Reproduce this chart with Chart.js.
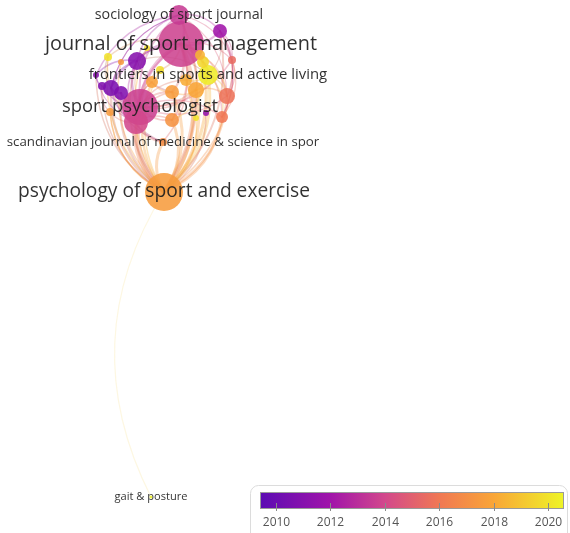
<!DOCTYPE html>
<html>
<head>
<meta charset="utf-8">
<script src="https://cdn.jsdelivr.net/npm/chart.js@4.4.1/dist/chart.umd.min.js"></script>
<style>
  html, body { margin: 0; padding: 0; background: #fff; }
  #wrap { width: 570px; height: 533px; }
</style>
</head>
<body>
<div id="wrap"><canvas id="net" width="570" height="533"></canvas></div>
<script>
// ---- network layout (map coordinates), node weight and avg. publication year
const nodeX    = [181, 179, 220, 137, 108, 203, 208, 160, 121, 111, 121,  96, 102, 140, 136, 172, 196, 227, 222, 206, 172, 186, 196, 163, 164, 151, 152, 147, 200, 232, 110];
const nodeY    = [ 44,  15,  31,  61,  57,  62,  75,  70,  62,  88,  93,  75,  86, 107, 122,  92,  90,  96, 117, 113, 120,  80, 118, 142, 192, 497,  82,  48,  55,  60, 112];
const nodeR    = [ 23,  10,   7,   9,   4,   6,  10,   4,   3,   8,   7,   3,   4,  18,  12,   7,   8,   8,   6,   3,   7,   6,   3,   4,  19, 1.5,   6,   3,   5,   4,   4];
const nodeYear = [2013.8, 2013.5, 2012.0, 2011.0, 2020.0, 2019.6, 2020.3, 2019.8, 2017.5, 2010.6, 2010.8, 2011.0, 2010.8,
                  2013.7, 2014.0, 2017.6, 2018.0, 2015.8, 2016.0, 2011.5, 2017.2, 2018.2, 2020.0, 2017.0, 2017.6, 2020.5,
                  2017.8, 2019.8, 2018.5, 2015.5, 2017.5];

// links (source node, target node, strength)
const edgeFrom = [0, 13, 14, 3, 9, 10, 6, 15, 16, 17, 18, 20, 23, 26, 21, 5, 1, 2, 19, 22, 8, 11, 12, 4, 7, 27, 28, 29, 30,
                  24,
                  0, 0, 0, 0, 0, 0, 0, 0, 0, 0, 0, 0, 1, 1, 1, 13, 13, 13, 13, 13, 13, 13, 13, 3, 3, 6, 6, 6, 6, 9, 14, 14, 15, 17, 2, 1, 0, 0, 13, 13,
                  1, 2, 4, 11, 9, 12, 3, 5, 28, 2, 27, 7,
                  0, 0, 0, 1, 1, 2, 2, 3, 3, 4, 6, 6, 9, 10, 11, 12, 13, 13, 14, 15, 16, 17, 26, 26, 29, 30, 30, 0, 13, 1];
const edgeTo   = [24, 24, 24, 24, 24, 24, 24, 24, 24, 24, 24, 24, 24, 24, 24, 24, 24, 24, 24, 24, 24, 24, 24, 24, 24, 24, 24, 24, 24,
                  25,
                  1, 2, 3, 13, 6, 5, 15, 16, 4, 17, 7, 28, 2, 3, 13, 9, 10, 3, 6, 17, 15, 20, 14, 9, 11, 16, 17, 5, 21, 10, 20, 23, 16, 18, 17, 11, 9, 18, 18, 16,
                  9, 18, 14, 14, 23, 13, 6, 17, 17, 6, 13, 13,
                  14, 20, 23, 9, 29, 29, 18, 15, 14, 9, 18, 20, 14, 23, 12, 30, 26, 21, 15, 20, 17, 29, 15, 13, 18, 14, 24, 29, 29, 17];
const edgeW    = [5, 5, 4, 2, 2.5, 2.5, 3, 3, 3, 2.5, 2.5, 3, 3, 2.5, 2.5, 2, 2, 2, 1.5, 1.5, 1.5, 1.5, 1.5, 1.5, 1.5, 1.5, 1.5, 1.5, 1.5,
                  1.2,
                  2.5, 2, 2.5, 4, 2.5, 2, 2.5, 2, 1.5, 1.5, 1.5, 1.5, 1.5, 1.5, 2, 2.5, 2.5, 2.5, 2, 1.5, 2, 2, 2.5, 2, 1.5, 2, 1.5, 1.5, 1.5, 2, 1.5, 2, 1.5, 1.5, 1.5, 1.5, 1.5, 1.5, 1.5, 1.5,
                  1.2, 1.2, 1.2, 1.2, 1.2, 1.2, 1.2, 1.2, 1.2, 1.2, 1.2, 1.2,
                  2, 2, 1.5, 1.2, 1.2, 1.2, 1.2, 1.5, 1.5, 1.2, 1.5, 1.5, 1.5, 1.5, 1.2, 1.2, 1.5, 1.5, 1.5, 1.5, 1.5, 1.2, 1.5, 1.5, 1.2, 1.2, 1.5, 1.2, 1.5, 1.2];

// labels shown on the map
const labelNode = [1, 0, 6, 13, 23, 24, 25];
const labelText = ['sociology of sport journal', 'journal of sport management', 'frontiers in sports and active living',
                   'sport psychologist', 'scandinavian journal of medicine & science in spor',
                   'psychology of sport and exercise', 'gait & posture'];

// colour bar
const yearMin = 2009.41;
const yearMax = 2020.59;
const yearTicks = [2010, 2012, 2014, 2016, 2018, 2020];

// ---- styles
const LABEL_SIZE = { 0: 19.9, 1: 14.3, 6: 14.9, 13: 18.4, 23: 13.3, 24: 19.2, 25: 11.1 };
const FONT = '"Open Sans", "Noto Sans", sans-serif';
const STOPS = [
  [0.00, [91, 12, 179]],
  [0.23, [160, 20, 170]],
  [0.41, [210, 72, 140]],
  [0.59, [240, 120, 84]],
  [0.77, [249, 166, 55]],
  [1.00, [238, 245, 39]]
];

function yearRgb(year) {
  let t = (year - yearMin) / (yearMax - yearMin);
  t = Math.max(0, Math.min(1, t));
  for (let i = 1; i < STOPS.length; i++) {
    if (t <= STOPS[i][0]) {
      const [t0, c0] = STOPS[i - 1];
      const [t1, c1] = STOPS[i];
      const f = (t - t0) / (t1 - t0);
      return c0.map((v, k) => Math.round(v + (c1[k] - v) * f));
    }
  }
  return STOPS[STOPS.length - 1][1];
}
function rgba(c, a) { return 'rgba(' + c[0] + ',' + c[1] + ',' + c[2] + ',' + a + ')'; }

// curved links, drawn under the nodes
const linksPlugin = {
  id: 'links',
  beforeDatasetsDraw(chart) {
    const ctx = chart.ctx;
    const sx = chart.scales.x, sy = chart.scales.y;
    const cx = sx.getPixelForValue(165);
    ctx.save();
    ctx.lineCap = 'round';
    edgeFrom.forEach((a, i) => {
      const b = edgeTo[i];
      const x0 = sx.getPixelForValue(nodeX[a]), y0 = sy.getPixelForValue(nodeY[a]);
      const x1 = sx.getPixelForValue(nodeX[b]), y1 = sy.getPixelForValue(nodeY[b]);
      const dx = x1 - x0, dy = y1 - y0;
      const mx = (x0 + x1) / 2, my = (y0 + y1) / 2;
      // bend outward, away from the centre of the map
      let nx = -dy, ny = dx;
      const side = (mx - cx) || -1;
      if (nx * side < 0) { nx = -nx; ny = -ny; }
      const c = 0.28;
      const ca = yearRgb(nodeYear[a]), cb = yearRgb(nodeYear[b]);
      // links into the big hub take most of its colour
      const wb = b === 24 ? 0.7 : 0.5;
      const col = ca.map((v, k) => Math.round(v * (1 - wb) + cb[k] * wb));
      ctx.strokeStyle = rgba(col, b === 25 ? 0.14 : 0.33);
      ctx.lineWidth = edgeW[i];
      ctx.beginPath();
      ctx.moveTo(x0, y0);
      ctx.quadraticCurveTo(mx + nx * c, my + ny * c, x1, y1);
      ctx.stroke();
    });
    ctx.restore();
  }
};

// node labels and colour bar on top
const labelsPlugin = {
  id: 'labels',
  afterDatasetsDraw(chart) {
    const ctx = chart.ctx;
    const sx = chart.scales.x, sy = chart.scales.y;
    ctx.save();
    ctx.textAlign = 'center';
    ctx.textBaseline = 'middle';
    ctx.fillStyle = 'rgba(30,30,30,0.92)';
    labelNode.forEach((n, i) => {
      ctx.font = LABEL_SIZE[n] + 'px ' + FONT;
      ctx.fillText(labelText[i], sx.getPixelForValue(nodeX[n]), sy.getPixelForValue(nodeY[n]));
    });

    // colour bar
    const bx = 260, by = 492, bw = 304, bh = 17;
    ctx.strokeStyle = '#dcdcdc';
    ctx.lineWidth = 1;
    ctx.beginPath();
    ctx.roundRect(250.5, 485.5, 317, 60, 8);
    ctx.stroke();
    const g = ctx.createLinearGradient(bx, 0, bx + bw, 0);
    STOPS.forEach(([t, c]) => g.addColorStop(t, rgba(c, 1)));
    ctx.fillStyle = g;
    ctx.fillRect(bx, by, bw, bh);
    ctx.strokeStyle = '#9a9a9a';
    ctx.strokeRect(bx + 0.5, by + 0.5, bw - 1, bh - 1);
    ctx.font = '12px ' + FONT;
    ctx.fillStyle = '#555';
    yearTicks.forEach(yr => {
      const x = Math.round(bx + (yr - yearMin) / (yearMax - yearMin) * bw) + 0.5;
      ctx.strokeStyle = '#8a8a8a';
      ctx.beginPath();
      ctx.moveTo(x, by + bh - 6);
      ctx.lineTo(x, by + bh + 2);
      ctx.stroke();
      ctx.fillText(String(yr), x, 523);
    });
    ctx.restore();
  }
};

const order = nodeR.map((r, i) => i).sort((a, b) => nodeR[b] - nodeR[a]);

new Chart(document.getElementById('net'), {
  type: 'bubble',
  data: {
    datasets: [{
      data: order.map(i => ({ x: nodeX[i], y: nodeY[i], r: nodeR[i] })),
      backgroundColor: order.map(i => rgba(yearRgb(nodeYear[i]), 0.88)),
      borderWidth: 0,
      hoverBorderWidth: 0
    }]
  },
  options: {
    responsive: false,
    animation: false,
    events: [],
    layout: { padding: 0, autoPadding: false },
    plugins: { legend: { display: false }, tooltip: { enabled: false } },
    scales: {
      x: { type: 'linear', min: 0, max: 570, display: false },
      y: { type: 'linear', min: 0, max: 533, reverse: true, display: false }
    }
  },
  plugins: [linksPlugin, labelsPlugin]
});
</script>
</body>
</html>
